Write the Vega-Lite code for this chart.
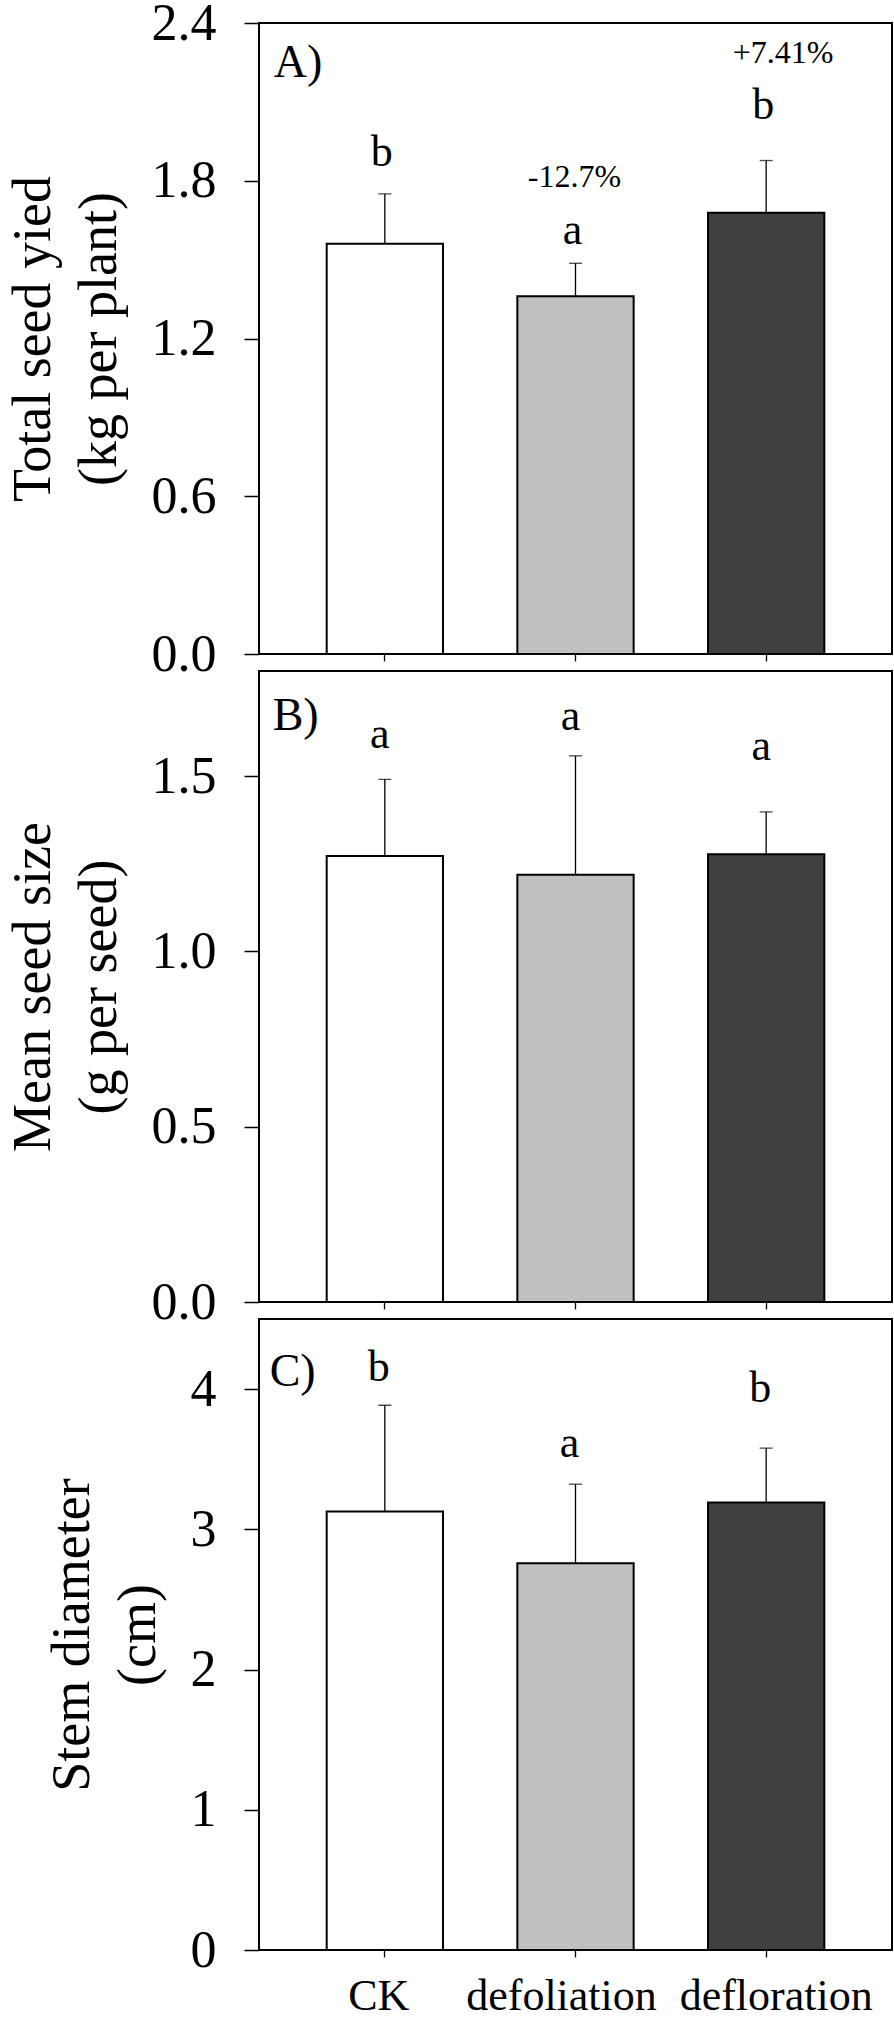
{
  "$schema": "https://vega.github.io/schema/vega-lite/v6.json",
  "usermeta": {"embedOptions": {"actions": false}},
  "background": "white",
  "padding": {"left": 5, "top": -4, "right": 2, "bottom": 0},
  "datasets": {
    "stats": [
      {"panel": "A", "treatment": "CK", "mean": 1.560, "upper": 1.750},
      {"panel": "A", "treatment": "defoliation", "mean": 1.361, "upper": 1.486},
      {"panel": "A", "treatment": "defloration", "mean": 1.678, "upper": 1.877},
      {"panel": "B", "treatment": "CK", "mean": 1.272, "upper": 1.491},
      {"panel": "B", "treatment": "defoliation", "mean": 1.219, "upper": 1.558},
      {"panel": "B", "treatment": "defloration", "mean": 1.277, "upper": 1.398},
      {"panel": "C", "treatment": "CK", "mean": 3.127, "upper": 3.885},
      {"panel": "C", "treatment": "defoliation", "mean": 2.759, "upper": 3.322},
      {"panel": "C", "treatment": "defloration", "mean": 3.192, "upper": 3.579}
    ],
    "notes": [
      {"panel": "A", "treatment": "CK", "kind": "letter", "label": "b", "ypos": 1.855},
      {"panel": "A", "treatment": "defoliation", "kind": "letter", "label": "a", "ypos": 1.559},
      {"panel": "A", "treatment": "defloration", "kind": "letter", "label": "b", "ypos": 2.033},
      {"panel": "A", "treatment": "defoliation", "kind": "change", "label": "-12.7%", "ypos": 1.777},
      {"panel": "A", "treatment": "defloration", "kind": "change", "label": "+7.41%", "ypos": 2.249},
      {"panel": "A", "treatment": "CK", "kind": "panel", "label": "A)", "ypos": 2.194},
      {"panel": "B", "treatment": "CK", "kind": "letter", "label": "a", "ypos": 1.579},
      {"panel": "B", "treatment": "defoliation", "kind": "letter", "label": "a", "ypos": 1.633},
      {"panel": "B", "treatment": "defloration", "kind": "letter", "label": "a", "ypos": 1.547},
      {"panel": "B", "treatment": "CK", "kind": "panel", "label": "B)", "ypos": 1.633},
      {"panel": "C", "treatment": "CK", "kind": "letter", "label": "b", "ypos": 4.055},
      {"panel": "C", "treatment": "defoliation", "kind": "letter", "label": "a", "ypos": 3.518},
      {"panel": "C", "treatment": "defloration", "kind": "letter", "label": "b", "ypos": 3.908},
      {"panel": "C", "treatment": "CK", "kind": "panel", "label": "C)", "ypos": 4.022}
    ]
  },
  "config": {
    "view": {"stroke": "black", "strokeWidth": 2},
    "axis": {
      "labelFont": "Liberation Serif",
      "titleFont": "Liberation Serif",
      "labelColor": "black",
      "titleColor": "black",
      "tickColor": "black",
      "grid": false,
      "domain": false,
      "titleFontWeight": "normal",
      "labelOverlap": false,
      "labelLimit": 0
    },
    "text": {"font": "Liberation Serif", "color": "black"}
  },
  "spacing": 17,
  "bounds": "flush",
  "resolve": {"scale": {"y": "independent"}},
  "vconcat": [
    {
      "width": 633,
      "height": 631,
      "layer": [
        {
          "data": {"name": "stats"},
          "transform": [{"filter": "datum.panel === 'A'"}],
          "mark": {"type": "bar", "stroke": "black", "strokeWidth": 2},
          "encoding": {
            "x": {"field": "treatment", "type": "nominal", "sort": ["CK", "defoliation", "defloration"],
                  "scale": {"domain": ["CK", "defoliation", "defloration"], "paddingInner": 0.39, "paddingOuter": 0.355},
                  "axis": {"title": null, "labels": false, "tickSize": 7, "tickWidth": 1.3}},
            "y": {"field": "mean", "type": "quantitative", "scale": {"domain": [0, 2.4], "nice": false},
                  "axis": {"title": ["Total seed yied", "(kg per plant)"], "values": [0, 0.6, 1.2, 1.8, 2.4], "format": ".1f",
                           "tickSize": 15, "tickWidth": 1.5, "labelFontSize": 52, "labelPadding": 28,
                           "titleFontSize": 54, "titleLineHeight": 66, "titlePadding": 25}},
            "fill": {"field": "treatment", "type": "nominal",
                     "scale": {"domain": ["CK", "defoliation", "defloration"], "range": ["#ffffff", "#c0c0c0", "#404040"]}, "legend": null}
          }
        },
        {
          "data": {"name": "stats"},
          "transform": [{"filter": "datum.panel === 'A'"}],
          "mark": {"type": "rule", "color": "black", "strokeWidth": 1.3},
          "encoding": {
            "x": {"field": "treatment", "type": "nominal"},
            "y": {"field": "mean", "type": "quantitative", "scale": {"domain": [0, 2.4], "nice": false}},
            "y2": {"field": "upper"}
          }
        },
        {
          "data": {"name": "stats"},
          "transform": [{"filter": "datum.panel === 'A'"}],
          "mark": {"type": "tick", "color": "black", "thickness": 1.3, "size": 13},
          "encoding": {
            "x": {"field": "treatment", "type": "nominal"},
            "y": {"field": "upper", "type": "quantitative", "scale": {"domain": [0, 2.4], "nice": false}}
          }
        },
        {
          "data": {"name": "notes"},
          "transform": [{"filter": "datum.panel === 'A' && datum.kind === 'letter'"}],
          "mark": {"type": "text", "fontSize": 44, "baseline": "alphabetic", "align": "center", "dx": -3},
          "encoding": {
            "x": {"field": "treatment", "type": "nominal"},
            "y": {"field": "ypos", "type": "quantitative", "scale": {"domain": [0, 2.4], "nice": false}},
            "text": {"field": "label"}
          }
        },
        {
          "data": {"name": "notes"},
          "transform": [{"filter": "datum.panel === 'A' && datum.kind === 'change' && datum.treatment === 'defoliation'"}],
          "mark": {"type": "text", "fontSize": 32, "baseline": "alphabetic", "align": "center", "dx": -1},
          "encoding": {
            "x": {"field": "treatment", "type": "nominal"},
            "y": {"field": "ypos", "type": "quantitative", "scale": {"domain": [0, 2.4], "nice": false}},
            "text": {"field": "label"}
          }
        },
        {
          "data": {"name": "notes"},
          "transform": [{"filter": "datum.panel === 'A' && datum.kind === 'change' && datum.treatment === 'defloration'"}],
          "mark": {"type": "text", "fontSize": 32, "baseline": "alphabetic", "align": "center", "dx": 17},
          "encoding": {
            "x": {"field": "treatment", "type": "nominal"},
            "y": {"field": "ypos", "type": "quantitative", "scale": {"domain": [0, 2.4], "nice": false}},
            "text": {"field": "label"}
          }
        },
        {
          "data": {"name": "notes"},
          "transform": [{"filter": "datum.panel === 'A' && datum.kind === 'panel'"}],
          "mark": {"type": "text", "fontSize": 46, "baseline": "alphabetic", "align": "left", "dx": -53},
          "encoding": {
            "x": {"field": "treatment", "type": "nominal", "bandPosition": 0},
            "y": {"field": "ypos", "type": "quantitative", "scale": {"domain": [0, 2.4], "nice": false}},
            "text": {"field": "label"}
          }
        }
      ]
    },
    {
      "width": 633,
      "height": 631,
      "layer": [
        {
          "data": {"name": "stats"},
          "transform": [{"filter": "datum.panel === 'B'"}],
          "mark": {"type": "bar", "stroke": "black", "strokeWidth": 2},
          "encoding": {
            "x": {"field": "treatment", "type": "nominal", "sort": ["CK", "defoliation", "defloration"],
                  "scale": {"domain": ["CK", "defoliation", "defloration"], "paddingInner": 0.39, "paddingOuter": 0.355},
                  "axis": {"title": null, "labels": false, "tickSize": 7, "tickWidth": 1.3}},
            "y": {"field": "mean", "type": "quantitative", "scale": {"domain": [0, 1.8], "nice": false},
                  "axis": {"title": ["Mean seed size", "(g per seed)"], "values": [0, 0.5, 1.0, 1.5], "format": ".1f",
                           "tickSize": 15, "tickWidth": 1.5, "labelFontSize": 52, "labelPadding": 28,
                           "titleFontSize": 54, "titleLineHeight": 66, "titlePadding": 25}},
            "fill": {"field": "treatment", "type": "nominal",
                     "scale": {"domain": ["CK", "defoliation", "defloration"], "range": ["#ffffff", "#c0c0c0", "#404040"]}, "legend": null}
          }
        },
        {
          "data": {"name": "stats"},
          "transform": [{"filter": "datum.panel === 'B'"}],
          "mark": {"type": "rule", "color": "black", "strokeWidth": 1.3},
          "encoding": {
            "x": {"field": "treatment", "type": "nominal"},
            "y": {"field": "mean", "type": "quantitative", "scale": {"domain": [0, 1.8], "nice": false}},
            "y2": {"field": "upper"}
          }
        },
        {
          "data": {"name": "stats"},
          "transform": [{"filter": "datum.panel === 'B'"}],
          "mark": {"type": "tick", "color": "black", "thickness": 1.3, "size": 13},
          "encoding": {
            "x": {"field": "treatment", "type": "nominal"},
            "y": {"field": "upper", "type": "quantitative", "scale": {"domain": [0, 1.8], "nice": false}}
          }
        },
        {
          "data": {"name": "notes"},
          "transform": [{"filter": "datum.panel === 'B' && datum.kind === 'letter'"}],
          "mark": {"type": "text", "fontSize": 44, "baseline": "alphabetic", "align": "center", "dx": -5},
          "encoding": {
            "x": {"field": "treatment", "type": "nominal"},
            "y": {"field": "ypos", "type": "quantitative", "scale": {"domain": [0, 1.8], "nice": false}},
            "text": {"field": "label"}
          }
        },
        {
          "data": {"name": "notes"},
          "transform": [{"filter": "datum.panel === 'B' && datum.kind === 'panel'"}],
          "mark": {"type": "text", "fontSize": 46, "baseline": "alphabetic", "align": "left", "dx": -54},
          "encoding": {
            "x": {"field": "treatment", "type": "nominal", "bandPosition": 0},
            "y": {"field": "ypos", "type": "quantitative", "scale": {"domain": [0, 1.8], "nice": false}},
            "text": {"field": "label"}
          }
        }
      ]
    },
    {
      "width": 633,
      "height": 631,
      "layer": [
        {
          "data": {"name": "stats"},
          "transform": [{"filter": "datum.panel === 'C'"}],
          "mark": {"type": "bar", "stroke": "black", "strokeWidth": 2},
          "encoding": {
            "x": {"field": "treatment", "type": "nominal", "sort": ["CK", "defoliation", "defloration"],
                  "scale": {"domain": ["CK", "defoliation", "defloration"], "paddingInner": 0.39, "paddingOuter": 0.355},
                  "axis": {"title": null, "labelAngle": 0, "labelFontSize": 44, "labelPadding": 17, "tickSize": 7, "tickWidth": 1.3,
                           "labelOffset": {"condition": [{"test": "datum.value === 'defoliation'", "value": -14}, {"test": "datum.value === 'defloration'", "value": 10}], "value": -6}}},
            "y": {"field": "mean", "type": "quantitative", "scale": {"domain": [0, 4.5], "nice": false},
                  "axis": {"title": ["Stem diameter", "(cm)"], "values": [0, 1, 2, 3, 4], "format": "d",
                           "tickSize": 15, "tickWidth": 1.5, "labelFontSize": 52, "labelPadding": 28,
                           "titleFontSize": 54, "titleLineHeight": 66, "titlePadding": 25}},
            "fill": {"field": "treatment", "type": "nominal",
                     "scale": {"domain": ["CK", "defoliation", "defloration"], "range": ["#ffffff", "#c0c0c0", "#404040"]}, "legend": null}
          }
        },
        {
          "data": {"name": "stats"},
          "transform": [{"filter": "datum.panel === 'C'"}],
          "mark": {"type": "rule", "color": "black", "strokeWidth": 1.3},
          "encoding": {
            "x": {"field": "treatment", "type": "nominal"},
            "y": {"field": "mean", "type": "quantitative", "scale": {"domain": [0, 4.5], "nice": false}},
            "y2": {"field": "upper"}
          }
        },
        {
          "data": {"name": "stats"},
          "transform": [{"filter": "datum.panel === 'C'"}],
          "mark": {"type": "tick", "color": "black", "thickness": 1.3, "size": 13},
          "encoding": {
            "x": {"field": "treatment", "type": "nominal"},
            "y": {"field": "upper", "type": "quantitative", "scale": {"domain": [0, 4.5], "nice": false}}
          }
        },
        {
          "data": {"name": "notes"},
          "transform": [{"filter": "datum.panel === 'C' && datum.kind === 'letter'"}],
          "mark": {"type": "text", "fontSize": 44, "baseline": "alphabetic", "align": "center", "dx": -6},
          "encoding": {
            "x": {"field": "treatment", "type": "nominal"},
            "y": {"field": "ypos", "type": "quantitative", "scale": {"domain": [0, 4.5], "nice": false}},
            "text": {"field": "label"}
          }
        },
        {
          "data": {"name": "notes"},
          "transform": [{"filter": "datum.panel === 'C' && datum.kind === 'panel'"}],
          "mark": {"type": "text", "fontSize": 46, "baseline": "alphabetic", "align": "left", "dx": -57},
          "encoding": {
            "x": {"field": "treatment", "type": "nominal", "bandPosition": 0},
            "y": {"field": "ypos", "type": "quantitative", "scale": {"domain": [0, 4.5], "nice": false}},
            "text": {"field": "label"}
          }
        }
      ]
    }
  ]
}
